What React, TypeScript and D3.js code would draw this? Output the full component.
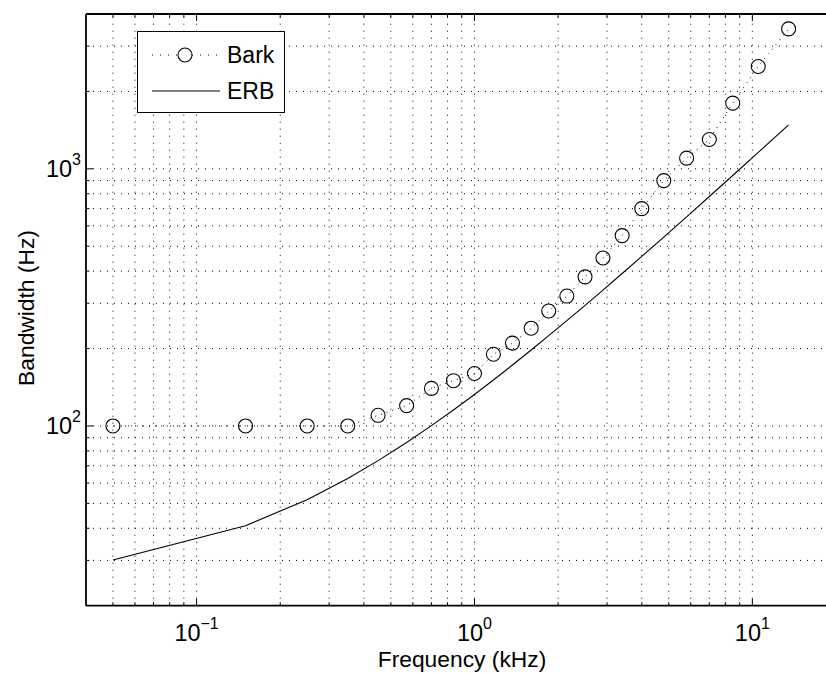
import React from "react";
import * as d3 from "d3";

// Critical-band centre frequencies (kHz) and bandwidths (Hz)
const barkCenters = [0.05, 0.15, 0.25, 0.35, 0.45, 0.57, 0.7, 0.84, 1.0, 1.17, 1.37, 1.6, 1.85, 2.15, 2.5, 2.9, 3.4, 4.0, 4.8, 5.8, 7.0, 8.5, 10.5, 13.5];
const barkBandwidths = [100, 100, 100, 100, 110, 120, 140, 150, 160, 190, 210, 240, 280, 320, 380, 450, 550, 700, 900, 1100, 1300, 1800, 2500, 3500];
const erbBandwidths = [30.1, 40.9, 51.7, 62.5, 73.3, 86.2, 100.3, 115.4, 132.6, 151.0, 172.6, 197.4, 224.4, 256.8, 294.6, 337.7, 391.7, 456.5, 542.8, 650.8, 780.3, 942.2, 1158.1, 1481.9];

const xMajorTicks = [0.1, 1, 10];
const xMajorExponents = ["\u22121", "0", "1"];
const yMajorTicks = [100, 1000];
const yMajorExponents = ["2", "3"];
const xDomain = [0.04, 20];
const yDomain = [20, 4000];

const legendLabels = ["Bark", "ERB"];
const xLabel = "Frequency (kHz)";
const yLabel = "Bandwidth (Hz)";

const W = 826;
const H = 673;
const left = 86;
const right = 836;
const top = 14;
const bottom = 605.7;
const FONT = "'Liberation Sans', Arial, Helvetica, sans-serif";

function minorTicks(lo: number, hi: number): number[] {
  const out: number[] = [];
  for (let e = Math.floor(Math.log10(lo)); e <= Math.ceil(Math.log10(hi)); e++) {
    for (let m = 1; m <= 9; m++) {
      const v = m * Math.pow(10, e);
      if (v > lo * 1.0001 && v < hi * 0.9999) out.push(v);
    }
  }
  return out;
}

export default function App() {
  const x = d3.scaleLog().domain(xDomain).range([left, right]);
  const y = d3.scaleLog().domain(yDomain).range([bottom, top]);

  const xGrid = minorTicks(xDomain[0], xDomain[1]);
  const yGrid = minorTicks(yDomain[0], yDomain[1]);
  const isMajor = (v: number) => Math.abs(Math.log10(v) - Math.round(Math.log10(v))) < 1e-6;

  const barkPts: [number, number][] = barkCenters.map((f, i) => [x(f), y(barkBandwidths[i])]);
  const erbPts: [number, number][] = barkCenters.map((f, i) => [x(f), y(erbBandwidths[i])]);
  const line = d3.line();

  const gridStyle = { stroke: "#000", strokeWidth: 1, strokeDasharray: "1,6" };

  return (
    <svg width={W} height={H} style={{ position: "absolute", left: 0, top: 0, background: "#fff" }} fontFamily={FONT}>
      <defs>
        <clipPath id="plotClip">
          <rect x={left} y={top} width={right - left} height={bottom - top} />
        </clipPath>
      </defs>
      <rect x={0} y={0} width={W} height={H} fill="#fff" />

      {/* dotted grid */}
      <g clipPath="url(#plotClip)">
        {xGrid.map((v) => (
          <line key={"gx" + v} x1={x(v)} x2={x(v)} y1={bottom} y2={top} {...gridStyle} />
        ))}
        {yGrid.map((v) => (
          <line key={"gy" + v} x1={left} x2={right} y1={y(v)} y2={y(v)} {...gridStyle} />
        ))}
      </g>

      {/* tick marks, drawn inside the box */}
      <g stroke="#000" strokeWidth={1}>
        {xGrid.map((v) => {
          const len = isMajor(v) ? 7 : 3.5;
          return (
            <g key={"tx" + v}>
              <line x1={x(v)} x2={x(v)} y1={bottom} y2={bottom - len} />
              <line x1={x(v)} x2={x(v)} y1={top} y2={top + len} />
            </g>
          );
        })}
        {yGrid.map((v) => {
          const len = isMajor(v) ? 7 : 3.5;
          return <line key={"ty" + v} x1={left} x2={left + len} y1={y(v)} y2={y(v)} />;
        })}
      </g>

      {/* data */}
      <g clipPath="url(#plotClip)">
        <path d={line(erbPts) || ""} fill="none" stroke="#000" strokeWidth={1.1} />
        <path d={line(barkPts) || ""} fill="none" stroke="#000" strokeWidth={1} strokeDasharray="1,5" />
        {barkPts.map((p, i) => (
          <circle key={"c" + i} cx={p[0]} cy={p[1]} r={7} fill="none" stroke="#000" strokeWidth={1.1} />
        ))}
      </g>

      {/* axes box */}
      <line x1={left} x2={left} y1={top} y2={bottom} stroke="#000" strokeWidth={1.8} />
      <line x1={left} x2={right} y1={bottom} y2={bottom} stroke="#000" strokeWidth={1.8} />
      <line x1={left} x2={right} y1={top} y2={top} stroke="#000" strokeWidth={1.8} />

      {/* x tick labels */}
      {xMajorTicks.map((v, i) => (
        <text key={"xl" + v} x={x(v)} y={641} fontSize={23.5} textAnchor="middle" fill="#000">
          10<tspan fontSize={16} dy={-12}>{xMajorExponents[i]}</tspan>
        </text>
      ))}
      {/* y tick labels */}
      {yMajorTicks.map((v, i) => (
        <text key={"yl" + v} x={81} y={y(v) + 8.5} fontSize={23.5} textAnchor="end" fill="#000">
          10<tspan fontSize={16} dy={-12}>{yMajorExponents[i]}</tspan>
        </text>
      ))}

      {/* axis titles */}
      <text x={462} y={667} fontSize={22.8} textAnchor="middle" fill="#000">
        {xLabel}
      </text>
      <text transform={`translate(34, 308) rotate(-90)`} fontSize={22.8} textAnchor="middle" fill="#000">
        {yLabel}
      </text>

      {/* legend */}
      <g>
        <rect x={137.5} y={31.5} width={147} height={81} fill="#fff" stroke="#000" strokeWidth={1} />
        <line x1={152} x2={220} y1={55} y2={55} stroke="#000" strokeWidth={1} strokeDasharray="1,7" />
        <circle cx={185} cy={55} r={7} fill="#fff" stroke="#000" strokeWidth={1.1} />
        <text x={227} y={62.5} fontSize={23} fill="#000">{legendLabels[0]}</text>
        <line x1={152} x2={220} y1={91} y2={91} stroke="#000" strokeWidth={1.1} />
        <text x={227} y={99} fontSize={23} fill="#000">{legendLabels[1]}</text>
      </g>
    </svg>
  );
}
